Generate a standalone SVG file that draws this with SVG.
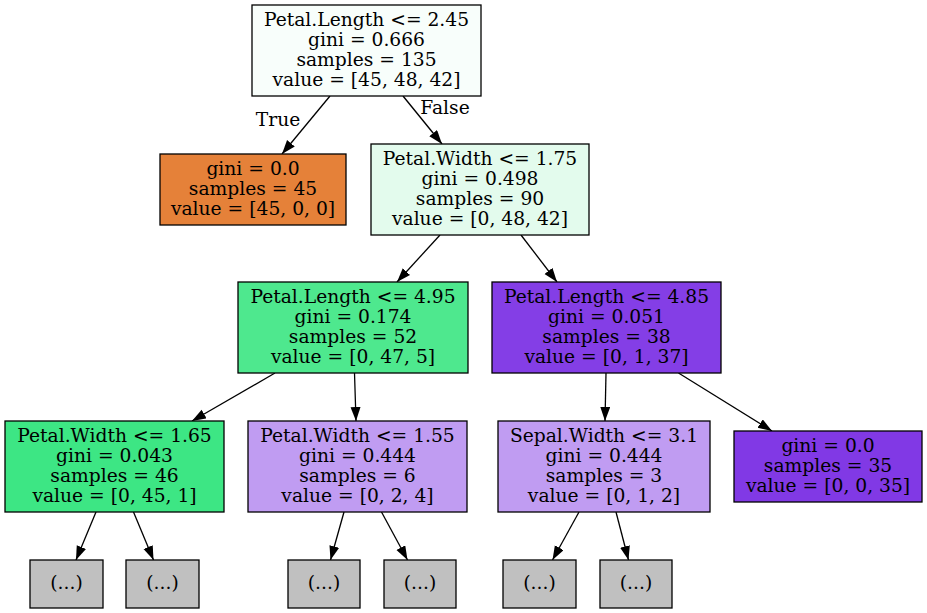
<svg xmlns="http://www.w3.org/2000/svg" width="927" height="613" viewBox="0 0 927 613">
<style>
  .n rect { stroke: #000; stroke-width: 1.3; }
  text { font-family: "DejaVu Serif", "Liberation Serif", serif; font-size: 18.7px; text-anchor: middle; fill: #000; }
  .e line { stroke: #000; stroke-width: 1.3; }
</style>
<defs>
  <marker id="ah" markerUnits="userSpaceOnUse" markerWidth="15" markerHeight="11" refX="14" refY="5" orient="auto" viewBox="0 0 15 11">
    <path d="M0,0 L14,5 L0,10 z" fill="#000"/>
  </marker>
</defs>
<rect width="927" height="613" fill="#fff"/>

<g class="e" id="edges">
  <line x1="330" y1="96" x2="282" y2="154" marker-end="url(#ah)"/>
  <line x1="403" y1="96" x2="442" y2="144" marker-end="url(#ah)"/>
  <line x1="440" y1="235" x2="397" y2="282" marker-end="url(#ah)"/>
  <line x1="521" y1="235" x2="557" y2="282" marker-end="url(#ah)"/>
  <line x1="275" y1="373" x2="192" y2="421" marker-end="url(#ah)"/>
  <line x1="354.5" y1="373" x2="356" y2="421" marker-end="url(#ah)"/>
  <line x1="606" y1="373" x2="605" y2="421" marker-end="url(#ah)"/>
  <line x1="678.5" y1="373" x2="772" y2="431" marker-end="url(#ah)"/>
  <line x1="96" y1="512" x2="76" y2="560" marker-end="url(#ah)"/>
  <line x1="133.5" y1="512" x2="153.5" y2="560" marker-end="url(#ah)"/>
  <line x1="344" y1="512" x2="330.5" y2="560" marker-end="url(#ah)"/>
  <line x1="381.5" y1="512" x2="407.5" y2="560" marker-end="url(#ah)"/>
  <line x1="579" y1="512" x2="552.5" y2="560" marker-end="url(#ah)"/>
  <line x1="616" y1="512" x2="628.5" y2="560" marker-end="url(#ah)"/>
  <text x="278" y="126">True</text>
  <text x="445" y="114">False</text>
</g>

<g class="n" id="n0">
  <rect x="252" y="5" width="229" height="91" fill="#f8fefb"/>
  <text x="366.5" y="26">Petal.Length &lt;= 2.45</text>
  <text x="366.5" y="46">gini = 0.666</text>
  <text x="366.5" y="66">samples = 135</text>
  <text x="366.5" y="86">value = [45, 48, 42]</text>
</g>
<g class="n" id="n1">
  <rect x="160" y="154" width="186" height="71" fill="#e58139"/>
  <text x="253" y="174.5">gini = 0.0</text>
  <text x="253" y="194.5">samples = 45</text>
  <text x="253" y="214.5">value = [45, 0, 0]</text>
</g>
<g class="n" id="n2">
  <rect x="371" y="144" width="218" height="91" fill="#e3fbed"/>
  <text x="480" y="165">Petal.Width &lt;= 1.75</text>
  <text x="480" y="185">gini = 0.498</text>
  <text x="480" y="205">samples = 90</text>
  <text x="480" y="225">value = [0, 48, 42]</text>
</g>
<g class="n" id="n3">
  <rect x="238" y="282" width="230" height="91" fill="#4ee88e"/>
  <text x="353" y="303">Petal.Length &lt;= 4.95</text>
  <text x="353" y="323">gini = 0.174</text>
  <text x="353" y="343">samples = 52</text>
  <text x="353" y="363">value = [0, 47, 5]</text>
</g>
<g class="n" id="n4">
  <rect x="492" y="282" width="229" height="91" fill="#843ee6"/>
  <text x="606.5" y="303">Petal.Length &lt;= 4.85</text>
  <text x="606.5" y="323">gini = 0.051</text>
  <text x="606.5" y="343">samples = 38</text>
  <text x="606.5" y="363">value = [0, 1, 37]</text>
</g>
<g class="n" id="n5">
  <rect x="5" y="421" width="219" height="91" fill="#3de684"/>
  <text x="114.5" y="442">Petal.Width &lt;= 1.65</text>
  <text x="114.5" y="462">gini = 0.043</text>
  <text x="114.5" y="482">samples = 46</text>
  <text x="114.5" y="502">value = [0, 45, 1]</text>
</g>
<g class="n" id="n6">
  <rect x="248" y="421" width="219" height="91" fill="#c09cf2"/>
  <text x="357.5" y="442">Petal.Width &lt;= 1.55</text>
  <text x="357.5" y="462">gini = 0.444</text>
  <text x="357.5" y="482">samples = 6</text>
  <text x="357.5" y="502">value = [0, 2, 4]</text>
</g>
<g class="n" id="n7">
  <rect x="498" y="421" width="212" height="91" fill="#c09cf2"/>
  <text x="604" y="442">Sepal.Width &lt;= 3.1</text>
  <text x="604" y="462">gini = 0.444</text>
  <text x="604" y="482">samples = 3</text>
  <text x="604" y="502">value = [0, 1, 2]</text>
</g>
<g class="n" id="n8">
  <rect x="734" y="431" width="188" height="71" fill="#8139e5"/>
  <text x="828" y="451.5">gini = 0.0</text>
  <text x="828" y="471.5">samples = 35</text>
  <text x="828" y="491.5">value = [0, 0, 35]</text>
</g>
<g class="n" id="g1">
  <rect x="30" y="560" width="73" height="48" fill="#c0c0c0"/>
  <text x="66.5" y="589">(...)</text>
</g>
<g class="n" id="g2">
  <rect x="126" y="560" width="73" height="48" fill="#c0c0c0"/>
  <text x="162.5" y="589">(...)</text>
</g>
<g class="n" id="g3">
  <rect x="288" y="560" width="72" height="48" fill="#c0c0c0"/>
  <text x="324" y="589">(...)</text>
</g>
<g class="n" id="g4">
  <rect x="384" y="560" width="72" height="48" fill="#c0c0c0"/>
  <text x="420" y="589">(...)</text>
</g>
<g class="n" id="g5">
  <rect x="503" y="560" width="73" height="48" fill="#c0c0c0"/>
  <text x="539.5" y="589">(...)</text>
</g>
<g class="n" id="g6">
  <rect x="600" y="560" width="72" height="48" fill="#c0c0c0"/>
  <text x="636" y="589">(...)</text>
</g>
</svg>
